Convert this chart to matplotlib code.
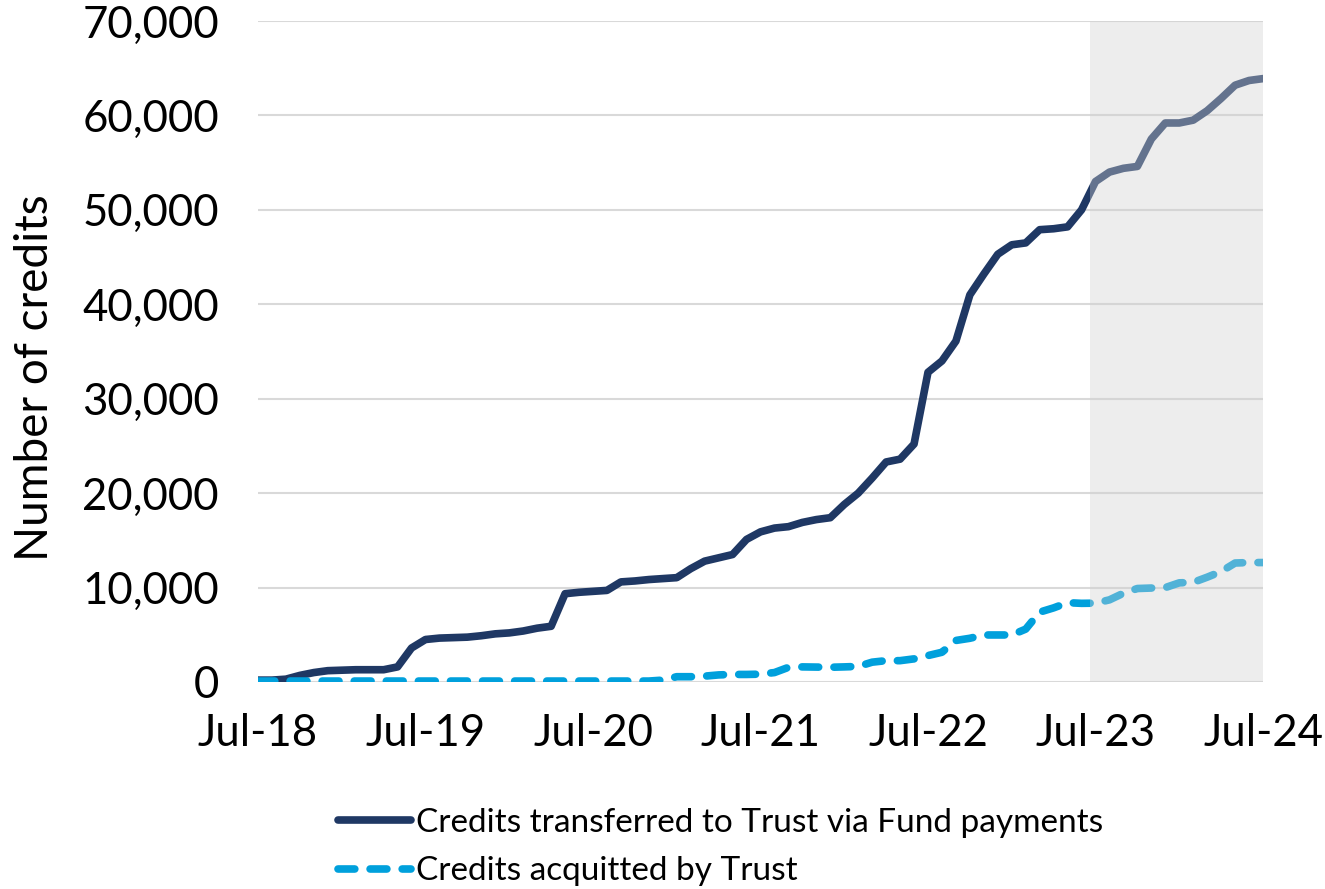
import matplotlib
matplotlib.use("Agg")
import matplotlib.pyplot as plt
import numpy as np

# ---------------- data ----------------
tick_labels = ["Jul-18", "Jul-19", "Jul-20", "Jul-21", "Jul-22", "Jul-23", "Jul-24"]

transferred = [
    200, 200, 300, 700, 1000, 1200, 1250, 1300, 1300, 1300, 1600, 3600,
    4500, 4650, 4700, 4750, 4900, 5100, 5200, 5400, 5700, 5900, 9350, 9500,
    9600, 9700, 10600, 10700, 10850, 10950, 11050, 12000, 12800, 13150, 13500, 15100,
    15900, 16300, 16450, 16900, 17200, 17400, 18800, 20000, 21600, 23300, 23600, 25200,
    32800, 34000, 36100, 41000, 43200, 45300, 46300, 46500, 47900, 48000, 48200, 50000,
    53000, 54000, 54400, 54600, 57500, 59200, 59200, 59500, 60500, 61800, 63200, 63700,
    63900,
]

acquitted = [
    100, 100, 100, 100, 100, 100, 100, 100, 100, 100, 100, 100,
    100, 100, 100, 100, 100, 100, 100, 100, 100, 100, 100, 100,
    100, 100, 100, 100, 100, 200, 560, 560, 620, 750, 800, 800,
    830, 1000, 1550, 1600, 1580, 1560, 1600, 1650, 2100, 2260, 2260, 2450,
    2800, 3150, 4400, 4630, 4980, 4980, 4980, 5600, 7400, 7850, 8400, 8330,
    8350, 8700, 9400, 9900, 9950, 10000, 10500, 10550, 11100, 11700, 12600, 12650,
    12650,
]

series_names = ["Credits transferred to Trust via Fund payments",
                "Credits acquitted by Trust"]
shade_start_label = "Jul-23"
y_max = 70000
y_step = 10000

# ---------------- style ----------------
navy = "#1F3864"
cyan = "#00A0DC"
font = "Lato"
plt.rcParams["font.family"] = [font, "DejaVu Sans"]

fig = plt.figure(figsize=(13.25, 8.89), dpi=100)
ax = fig.add_axes([258 / 1325, 1 - 682 / 889, (1263 - 258) / 1325, (682 - 21) / 889])

x = np.arange(len(transferred))
ax.plot(x, transferred, color=navy, lw=5.5, solid_capstyle="round",
        solid_joinstyle="round", label=series_names[0], zorder=3)
ax.plot(x, acquitted, color=cyan, lw=5.5, dashes=(2.2, 2.0),
        dash_capstyle="round", dash_joinstyle="round", label=series_names[1], zorder=3)

# shaded (forecast) region overlaid on top of the lines
shade_x = tick_labels.index(shade_start_label) * 12
ax.axvspan(shade_x - 0.4, len(transferred) - 1, color=(209 / 255, 209 / 255, 209 / 255),
           alpha=0.39, lw=0, zorder=4)

ax.set_xlim(0, len(transferred) - 1)
ax.set_ylim(0, y_max)
ax.set_xticks(np.arange(0, len(transferred), 12))
ax.set_xticklabels(tick_labels)
yt = np.arange(0, y_max + 1, y_step)
ax.set_yticks(yt)
ax.set_yticklabels([f"{v:,.0f}" for v in yt])

ax.grid(axis="y", color="#D9D9D9", lw=1.5, zorder=1)
ax.set_axisbelow(True)
for s in ax.spines.values():
    s.set_visible(False)
ax.tick_params(axis="both", length=0, labelsize=31.5, colors="black")
ax.tick_params(axis="y", pad=28)
ax.tick_params(axis="x", pad=22)

fig.text(35 / 1325, 1 - 378 / 889, "Number of credits", rotation=90,
         fontsize=33, ha="center", va="center")

leg = fig.legend(loc="upper left", bbox_to_anchor=(338 / 1325, 1 - 808 / 889),
                 frameon=False, fontsize=24, handlelength=2.2, handletextpad=0.15,
                 labelspacing=0.55, borderaxespad=0, borderpad=0)

fig.savefig("out.png", dpi=100)
